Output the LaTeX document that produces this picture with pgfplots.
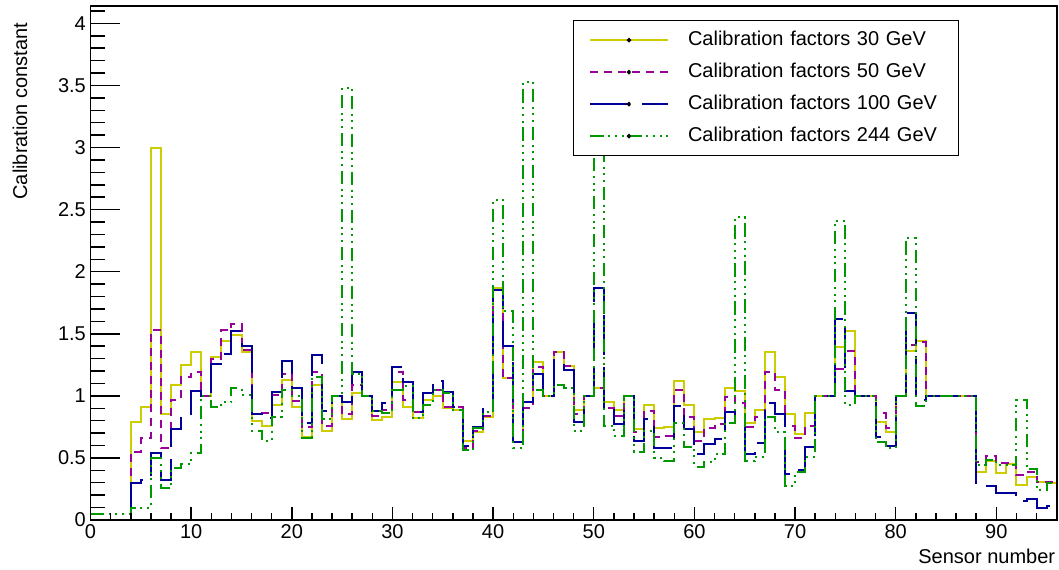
\documentclass[border=0pt]{standalone}
\usepackage{fontspec}
\setmainfont{Liberation Sans}
\usepackage{pgfplots}
\usepackage{pgfplotstable}
\pgfplotsset{compat=1.18}
\definecolor{cY}{RGB}{204,204,0}
\definecolor{cM}{RGB}{153,0,153}
\definecolor{cB}{RGB}{0,0,153}
\definecolor{cG}{RGB}{0,153,0}
\pgfplotstableread{
x a b c d
0 0 0 0 0.05
1 0 0 0 0.05
2 0 0 0 0.05
3 0 0 0 0.05
4 0.79 0.55 0.30 0.10
5 0.91 0.66 0.32 0.10
6 3.00 1.53 0.54 0.50
7 0.85 0.58 0.32 0.255
8 1.09 0.97 0.73 0.42
9 1.25 1.15 0.84 0.45
10 1.355 1.19 1.04 0.54
11 1.00 1.00 1.00 1.00
12 1.31 1.30 1.26 0.91
13 1.44 1.53 1.34 0.95
14 1.49 1.58 1.52 1.06
15 1.355 1.37 1.40 1.01
16 0.80 0.85 0.85 0.72
17 0.76 0.86 0.82 0.64
18 0.93 1.01 1.03 0.83
19 1.13 1.18 1.28 1.05
20 0.91 0.96 1.06 1.00
21 0.67 0.75 0.78 0.66
22 1.09 1.19 1.33 1.15
23 0.72 0.76 0.88 0.81
24 1.00 1.00 1.00 1.00
25 0.81 0.85 0.95 3.48
26 1.02 1.09 1.19 1.18
27 1.00 1.00 1.00 1.00
28 0.805 0.84 0.88 0.88
29 0.83 0.89 0.94 0.86
30 1.11 1.19 1.235 1.05
31 0.91 0.97 1.11 1.08
32 0.82 0.87 0.87 0.82
33 0.97 1.02 1.02 0.93
34 1.00 1.05 1.12 1.05
35 0.90 0.91 1.03 1.02
36 0.89 0.91 0.91 0.89
37 0.64 0.58 0.60 0.56
38 0.71 0.72 0.75 0.74
39 0.83 0.84 0.92 0.87
40 1.87 1.85 1.85 2.58
41 1.14 1.14 1.40 1.68
42 0.63 0.63 0.63 0.58
43 0.95 0.90 0.95 3.53
44 1.27 1.23 1.18 1.05
45 1.00 1.00 1.00 1.00
46 1.355 1.355 1.29 1.09
47 1.24 1.24 1.21 1.06
48 0.89 0.85 0.79 0.72
49 1.00 1.00 1.00 1.00
50 1.06 1.06 1.87 3.93
51 0.95 0.90 0.91 0.76
52 0.89 0.84 0.77 0.68
53 1.00 1.00 1.00 1.00
54 0.73 0.71 0.64 0.55
55 0.93 0.88 0.81 0.72
56 0.74 0.67 0.58 0.50
57 0.75 0.68 0.58 0.475
58 1.12 1.05 0.92 0.78
59 0.93 0.83 0.73 0.59
60 0.71 0.64 0.53 0.43
61 0.81 0.74 0.61 0.47
62 0.82 0.77 0.65 0.53
63 1.06 0.99 0.87 0.78
64 1.04 0.94 0.76 2.44
65 0.78 0.75 0.53 0.475
66 0.89 0.83 0.62 0.51
67 1.35 1.19 0.945 0.83
68 1.15 1.05 0.85 0.71
69 0.85 0.76 0.37 0.27
70 0.69 0.66 0.40 0.39
71 0.86 0.76 0.59 0.51
72 1.00 1.00 1.00 1.00
73 1.00 1.00 1.00 1.00
74 1.39 1.22 1.62 2.41
75 1.52 1.36 1.04 0.93
76 1.00 1.00 1.00 1.00
77 1.00 1.00 1.00 1.00
78 0.79 0.86 0.67 0.63
79 0.71 0.74 0.60 0.58
80 1.00 1.00 1.00 1.00
81 1.36 1.41 1.67 2.27
82 1.44 1.43 0.97 0.92
83 1.00 1.00 1.00 1.00
84 1.00 1.00 1.00 1.00
85 1.00 1.00 1.00 1.00
86 1.00 1.00 1.00 1.00
87 1.00 1.00 1.00 1.00
88 0.39 0.47 0.27 0.44
89 0.475 0.515 0.27 0.48
90 0.375 0.46 0.22 0.44
91 0.45 0.46 0.22 0.44
92 0.28 0.36 0.15 0.97
93 0.35 0.39 0.17 0.41
94 0.31 0.31 0.10 0.24
95 0.30 0.31 0.115 0.30
96 0.30 0.31 0.115 0.30
}\data
\begin{document}
\begin{tikzpicture}
\pgfplotsset{
  base/.style={
    scale only axis, width=724.65pt, height=385.5pt,
    xmin=0, xmax=96, ymin=0, ymax=4.14,
    axis line style={line width=1.4pt},
    tick align=inside,
    every tick/.style={black, line width=1.1pt},
    tick label style={font=\fontsize{15}{18}\selectfont},
    /pgf/number format/assume math mode=true,
  }
}
\begin{axis}[base,
  xtick=\empty,
  ytick={0,0.5,1,1.5,2,2.5,3,3.5,4},
  minor ytick={0,0.1,...,4.15},
  ytick pos=left,
  major tick length=21.75pt, minor tick length=10.9pt,
  no markers,
  legend image code/.code={\draw[#1] (0pt,0pt) -- (58pt,0pt); \fill[black] (29pt,0pt) circle[radius=0.8pt];},
  legend style={at={(axis cs:47.9,4.03)}, anchor=north west, draw=black, line width=1.1pt, fill=white,
    inner xsep=12pt, inner ysep=7.5pt, row sep=9.5pt,
    font=\fontsize{15}{18}\selectfont,
    nodes={inner sep=0pt, text height=11pt, text depth=3.5pt},
    /tikz/every odd column/.append style={column sep=14.5pt},
    /tikz/every even column/.append style={text width=191pt}},
  legend cell align=left,
]
\addplot[const plot, cY, line width=1.5pt] table[x=x,y=a]{\data};
\addlegendentry{Calibration factors 30 GeV}
\addplot[const plot, cM, line width=1.5pt, dash pattern=on 6pt off 4.5pt] table[x=x,y=b]{\data};
\addlegendentry{Calibration factors 50 GeV}
\addplot[const plot, cB, line width=1.5pt, dash pattern=on 30pt off 9pt] table[x=x,y=c]{\data};
\addlegendentry{Calibration factors 100 GeV}
\addplot[const plot, cG, line width=1.5pt, dash pattern=on 10pt off 3.5pt on 1.5pt off 3.5pt on 1.5pt off 3.5pt on 1.5pt off 3.5pt] table[x=x,y=d]{\data};
\addlegendentry{Calibration factors 244 GeV}
\end{axis}
\begin{axis}[base,
  ytick=\empty,
  xtick={0,10,...,90},
  minor xtick={0,2,...,96},
  xtick pos=bottom,
  major tick length=9.75pt, minor tick length=4.9pt,
]
\end{axis}
\node[rotate=90, anchor=east, font=\fontsize{15}{18}\selectfont] at ([shift={(-52.9pt,-9pt)}]current axis.north west) {Calibration constant};
\node[anchor=base east, inner sep=0pt, font=\fontsize{15}{18}\selectfont] at ([shift={(-1pt,-32.25pt)}]current axis.south east) {Sensor number};
\pgfresetboundingbox
\path[use as bounding box] ([shift={(-67.9pt,-36.75pt)}]current axis.south west) rectangle ([shift={(1.7pt,4.5pt)}]current axis.north east);
\end{tikzpicture}
\end{document}
